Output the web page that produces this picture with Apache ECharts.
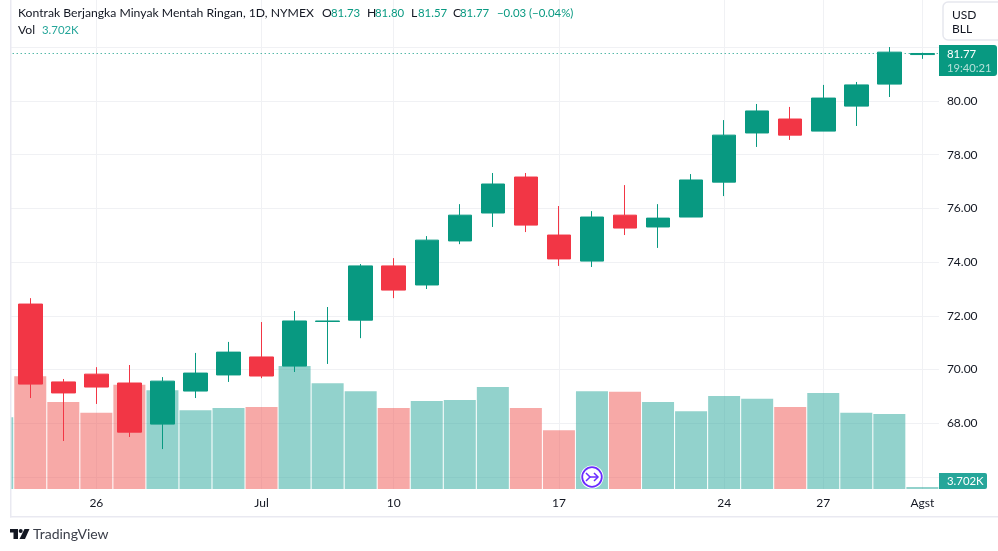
<!DOCTYPE html>
<html>
<head>
<meta charset="utf-8">
<style>html,body{margin:0;padding:0;background:#fff}#c{width:998px;height:551px}</style>
<script src="https://cdn.jsdelivr.net/npm/echarts@6/dist/echarts.min.js"></script>
</head>
<body>
<div id="c"></div>
<script>
const categories = ['06-21','06-22','06-23','06-26','06-27','06-28','06-29','06-30','07-03','07-05','07-06','07-07','07-10','07-11','07-12','07-13','07-14','07-17','07-18','07-19','07-20','07-21','07-24','07-25','07-26','07-27','07-28','07-31','08-01'];
const tickLabels = {'06-26':'26','07-03':'Jul','07-10':'10','07-17':'17','07-24':'24','07-27':'27','08-01':'Agst'};
const opens  = [null,72.44,69.54,69.83,69.50,67.97,69.20,69.80,70.47,70.13,71.79,71.84,73.86,73.15,74.79,75.83,77.17,75.01,74.04,75.75,75.31,75.68,76.98,78.81,79.33,78.88,79.81,80.63,81.73];
const closes = [null,69.46,69.13,69.35,67.67,69.57,69.87,70.65,69.76,71.81,71.81,73.86,72.96,74.82,75.75,76.91,75.38,74.12,75.68,75.27,75.64,77.06,78.73,79.63,78.73,80.11,80.60,81.82,81.77];
const lows   = [null,68.94,67.34,68.72,67.49,67.04,68.94,69.54,69.68,69.91,70.21,71.17,72.66,73.00,74.67,75.31,75.12,73.86,73.82,75.01,74.53,75.68,76.46,78.29,78.55,78.88,79.07,80.15,81.57];
const highs  = [null,72.66,69.65,70.09,70.17,69.72,70.62,71.03,71.77,72.18,72.33,73.93,74.15,74.97,76.16,77.32,77.32,76.09,75.90,76.87,76.16,77.28,79.29,79.89,79.78,80.60,80.71,82.01,81.80];
const volumes = [133,209,161,141,193,183,146,150,152,228,196,181,150,163,165,189,150,109,181,180,161,144,172,167,152,178,141,139,3.702];

const UP = '#089981', DOWN = '#f23645', VOL_UP = 'rgba(38,166,154,0.5)', VOL_DOWN = 'rgba(239,83,80,0.5)';
const GRID_LINE = '#f0f1f4', FRAME = '#e9e9f1', INK = '#131722';
const FONT = 'Lato';
const FS = 12.2, NUM = 11.4;

const candleData = categories.map((c, i) => opens[i] === null ? ['-', '-', '-', '-'] : [opens[i], closes[i], lows[i], highs[i]]);
const volData = volumes.map((v, i) => ({
  value: v,
  itemStyle: { color: (opens[i] === null || closes[i] >= opens[i]) ? VOL_UP : VOL_DOWN }
}));
const vLines = categories.map((c, i) => tickLabels[c] ? { xAxis: i } : null).filter(Boolean);

function txt(x, y, text, fill, size, weight) {
  return { type: 'text', z: 110, x, y, silent: true,
    style: { text, fill: fill || INK, font: (weight || 'normal') + ' ' + (size || FS) + 'px ' + FONT, verticalAlign: 'middle', align: 'left' } };
}
const graphics = [
  { type: 'rect', z: 100, silent: true, shape: { x: 0, y: 0, width: 10, height: 517 }, style: { fill: '#fff' } },
  { type: 'rect', z: 101, silent: true, shape: { x: 10, y: 0, width: 1.5, height: 517.5 }, style: { fill: FRAME } },
  { type: 'rect', z: 101, silent: true, shape: { x: 10, y: 516, width: 988, height: 1.5 }, style: { fill: FRAME } },
  txt(18, 13, 'Kontrak Berjangka Minyak Mentah Ringan, 1D, NYMEX'),
  txt(322, 13, 'O'), txt(331, 13, '81.73', UP, NUM),
  txt(367, 13, 'H'), txt(375, 13, '81.80', UP, NUM),
  txt(411, 13, 'L'), txt(418, 13, '81.57', UP, NUM),
  txt(453, 13, 'C'), txt(460, 13, '81.77', UP, NUM),
  txt(497, 13, '\u22120.03', UP, NUM), txt(529, 13, '(\u22120.04%)', UP, NUM),
  txt(18, 30, 'Vol'), txt(42, 30, '3.702K', '#26a69a', NUM),
  { type: 'rect', z: 105, silent: true, shape: { x: 943, y: 2, width: 60, height: 38, r: 5 }, style: { fill: '#fff', stroke: '#e6e7ee', lineWidth: 1.5 } },
  txt(952, 15, 'USD', INK, 12), txt(952, 29.5, 'BLL', INK, 12),
  { type: 'rect', z: 105, silent: true, shape: { x: 939, y: 45, width: 58, height: 31, r: [0, 3, 3, 0] }, style: { fill: UP } },
  txt(947, 54, '81.77', '#fff', NUM), txt(947, 68, '19:40:21', '#b5e0d9', 11.2),
  { type: 'rect', z: 105, silent: true, shape: { x: 939, y: 473, width: 48, height: 16, r: [0, 2, 2, 0] }, style: { fill: '#26a69a' } },
  txt(947, 481, '3.702K', '#fff', NUM),
  { type: 'circle', z: 106, silent: true, shape: { cx: 592, cy: 477, r: 11.5 }, style: { fill: '#fff' } },
  { type: 'circle', z: 107, silent: true, shape: { cx: 592, cy: 477, r: 9.8 }, style: { fill: '#fff', stroke: '#6a2bff', lineWidth: 1.8 } },
  { type: 'polyline', z: 108, silent: true, shape: { points: [[586, 473], [590, 477], [586, 481]] }, style: { fill: 'none', stroke: '#6a2bff', lineWidth: 1.5 } },
  { type: 'polyline', z: 108, silent: true, shape: { points: [[590, 477], [598, 477]] }, style: { stroke: '#6a2bff', lineWidth: 1.5 } },
  { type: 'polyline', z: 108, silent: true, shape: { points: [[594, 473], [598, 477], [594, 481]] }, style: { fill: 'none', stroke: '#6a2bff', lineWidth: 1.5 } },
  { type: 'polygon', z: 110, silent: true, shape: { points: [[10, 529], [18, 529], [18, 539], [13.5, 539], [13.5, 532.5], [10, 532.5]] }, style: { fill: INK } },
  { type: 'circle', z: 110, silent: true, shape: { cx: 20.7, cy: 531, r: 2 }, style: { fill: INK } },
  { type: 'polygon', z: 110, silent: true, shape: { points: [[24.5, 529], [29.5, 529], [25, 539], [19.5, 539]] }, style: { fill: INK } },
  txt(33, 534.5, 'TradingView', '#3a3e49', 14)
];

const chart = echarts.init(document.getElementById('c'), null, { renderer: 'canvas' });
chart.setOption({
  animation: false,
  backgroundColor: '#fff',
  textStyle: { fontFamily: FONT },
  grid: [
    { left: -19.3, right: 59.1, top: -6.4, height: 483.4, outerBoundsMode: 'none' },
    { left: -19.3, right: 59.1, top: 0, height: 489, outerBoundsMode: 'none' }
  ],
  xAxis: [
    { type: 'category', gridIndex: 0, data: categories, show: false },
    { type: 'category', gridIndex: 1, data: categories,
      axisLine: { show: false }, axisTick: { show: false }, splitLine: { show: false },
      axisLabel: { interval: 0, hideOverlap: false, margin: 8, color: INK, fontFamily: FONT, fontSize: 12,
        formatter: (v) => tickLabels[v] || '' } }
  ],
  yAxis: [
    { type: 'value', gridIndex: 0, position: 'right', min: 66, max: 84, interval: 2,
      axisLine: { show: false }, axisTick: { show: false },
      splitLine: { show: true, lineStyle: { color: GRID_LINE, width: 1 } },
      axisLabel: { margin: 8, color: INK, fontFamily: FONT, fontSize: 12, formatter: (v) => v >= 82 ? '' : v.toFixed(2) } },
    { type: 'value', gridIndex: 1, min: 0, max: 905.6, show: false, splitLine: { show: false } }
  ],
  series: [
    { type: 'bar', name: 'Vol', xAxisIndex: 1, yAxisIndex: 1, data: volData, barWidth: 32, z: 2,
      markLine: { silent: true, z: 1, symbol: 'none', animation: false, label: { show: false },
        lineStyle: { color: GRID_LINE, width: 1, type: 'solid' }, data: vLines } },
    { type: 'candlestick', name: 'Price', xAxisIndex: 0, yAxisIndex: 0, data: candleData, barWidth: 24, z: 3,
      itemStyle: { color: UP, color0: DOWN, borderColor: UP, borderColor0: DOWN, borderWidth: 1 },
      markLine: { silent: true, z: 1, symbol: 'none', animation: false, label: { show: false },
        lineStyle: { color: UP, width: 1, type: [1, 3] }, data: [{ yAxis: closes[closes.length - 1] }] } }
  ],
  graphic: graphics
});
</script>
</body>
</html>
